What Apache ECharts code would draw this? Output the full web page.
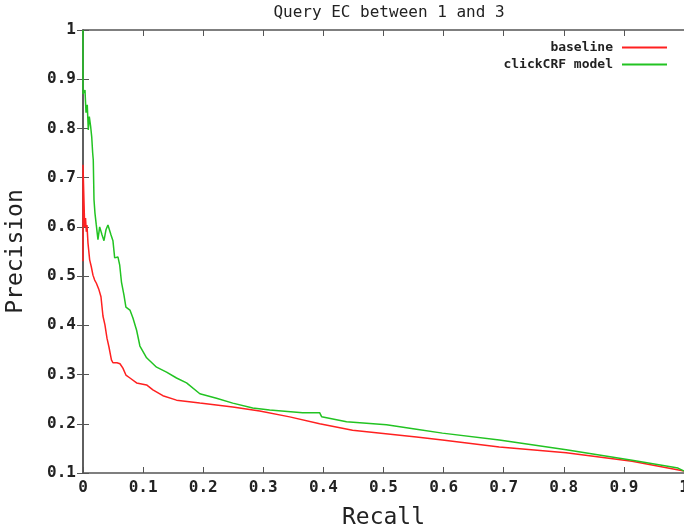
<!DOCTYPE html>
<html>
<head>
<meta charset="utf-8">
<script src="https://cdn.jsdelivr.net/npm/echarts@6/dist/echarts.min.js"></script>
<style>
  html, body { margin: 0; padding: 0; background: #fff; }
  #chart { width: 684px; height: 532px; }
</style>
</head>
<body>
<div id="chart"></div>
<script>
// 曲线数据 (recall, precision)
const seriesNames = ['baseline', 'clickCRF model'];

const baselineRecall = [0, 0, 0.0028, 0.0042, 0.0055, 0.0066, 0.0083, 0.0111, 0.0138, 0.0166, 0.0194,
  0.0221, 0.0261, 0.0299, 0.0332, 0.0365, 0.0399, 0.0432, 0.0473, 0.0498, 0.0565, 0.0615, 0.0664,
  0.0714, 0.0781, 0.0892, 0.1058, 0.1163, 0.1329, 0.1556, 0.1944, 0.2492, 0.294, 0.3439, 0.3937,
  0.4485, 0.5548, 0.598, 0.6927, 0.804, 0.9136, 1.0];
const baselinePrecision = [0.53, 0.726, 0.6, 0.618, 0.59, 0.604, 0.567, 0.533, 0.519, 0.502, 0.492,
  0.486, 0.474, 0.458, 0.419, 0.401, 0.374, 0.356, 0.33, 0.324, 0.324, 0.322, 0.313,
  0.299, 0.293, 0.283, 0.279, 0.269, 0.257, 0.248, 0.242, 0.234, 0.226, 0.214, 0.2,
  0.187, 0.173, 0.167, 0.153, 0.141, 0.124, 0.104];

const clickRecall = [0, 0, 0.0017, 0.0033, 0.005, 0.0071, 0.0088, 0.0105, 0.0128, 0.0145, 0.0161,
  0.0171, 0.0183, 0.0199, 0.0221, 0.0249, 0.0277, 0.0316, 0.0349, 0.0382, 0.0415, 0.0465, 0.0498,
  0.0527, 0.0581, 0.061, 0.064, 0.0681, 0.0714, 0.0781, 0.0831, 0.0892, 0.0947, 0.1058, 0.1224,
  0.139, 0.1556, 0.1723, 0.1944, 0.2221, 0.2492, 0.2824, 0.3106, 0.3654, 0.3937, 0.397, 0.4385,
  0.505, 0.5548, 0.598, 0.6927, 0.804, 0.9136, 0.99, 1.0];
const clickPrecision = [1.0, 0.87, 0.868, 0.878, 0.832, 0.848, 0.797, 0.824, 0.803, 0.783, 0.75,
  0.736, 0.655, 0.628, 0.604, 0.574, 0.6, 0.584, 0.572, 0.594, 0.604, 0.584, 0.572,
  0.537, 0.539, 0.523, 0.488, 0.462, 0.437, 0.431, 0.415, 0.39, 0.358, 0.334, 0.315,
  0.305, 0.293, 0.283, 0.261, 0.252, 0.242, 0.232, 0.228, 0.2226, 0.2226, 0.2144, 0.204,
  0.198, 0.189, 0.181, 0.167, 0.147, 0.126, 0.110, 0.104];

const zip = (xs, ys) => xs.map((x, i) => [x, ys[i]]);

const mono = 'DejaVu Sans Mono';
const axisColor = '#555';
const fmt = v => {
  const r = Math.round(v * 10) / 10;
  return (r === 0 || r === 1) ? String(r) : r.toFixed(1);
};

const chart = echarts.init(document.getElementById('chart'));

const option = {
  backgroundColor: '#fff',
  animation: false,
  title: {
    text: 'Query EC between 1 and 3',
    left: 384, top: 0, textAlign: 'center',
    textStyle: { fontFamily: mono, fontSize: 16, fontWeight: 'normal', color: '#222' }
  },
  legend: {
    data: seriesNames,
    orient: 'vertical',
    right: 17, top: 41,
    padding: 0,
    align: 'right',
    icon: 'rect',
    itemWidth: 45, itemHeight: 2,
    itemGap: 4,
    textStyle: { fontFamily: mono, fontSize: 13, fontWeight: 'bold', color: '#222', padding: [0, 4, 0, 0] }
  },
  grid: { left: 83, right: 0, top: 30, bottom: 59, containLabel: false, outerBoundsMode: 'none' },
  xAxis: [
    {
      type: 'value', min: 0, max: 1, interval: 0.1,
      name: 'Recall', nameLocation: 'middle', nameGap: 34,
      nameTextStyle: { fontFamily: mono, fontSize: 23, color: '#222' },
      axisLine: { lineStyle: { color: axisColor, width: 1.5 } },
      axisTick: { inside: true, length: 6, lineStyle: { color: axisColor } },
      axisLabel: { fontFamily: mono, fontSize: 16, fontWeight: 'bold', color: '#222', margin: 7, formatter: fmt },
      splitLine: { show: false }
    },
    {
      type: 'value', min: 0, max: 1, interval: 0.1, position: 'top',
      axisLine: { lineStyle: { color: axisColor, width: 1.5 } },
      axisTick: { inside: true, length: 6, lineStyle: { color: axisColor } },
      axisLabel: { show: false },
      splitLine: { show: false }
    }
  ],
  yAxis: [
    {
      type: 'value', min: 0.1, max: 1, interval: 0.1,
      name: 'Precision', nameLocation: 'middle', nameGap: 55,
      nameTextStyle: { fontFamily: mono, fontSize: 23, color: '#222' },
      axisLine: { show: true, lineStyle: { color: axisColor, width: 1.5 } },
      axisTick: { show: true, inside: true, length: 6, lineStyle: { color: axisColor } },
      axisLabel: { fontFamily: mono, fontSize: 16, fontWeight: 'bold', color: '#222', margin: 7, formatter: fmt },
      splitLine: { show: false }
    },
    {
      type: 'value', min: 0.1, max: 1, interval: 0.1, position: 'right',
      axisLine: { show: true, lineStyle: { color: axisColor, width: 1.5 } },
      axisTick: { show: true, inside: true, length: 6, lineStyle: { color: axisColor } },
      axisLabel: { show: false },
      splitLine: { show: false }
    }
  ],
  series: [
    {
      name: seriesNames[0], type: 'line', data: zip(baselineRecall, baselinePrecision),
      showSymbol: false, symbol: 'none',
      lineStyle: { color: '#ff2020', width: 1.5 }, itemStyle: { color: '#ff2020' }
    },
    {
      name: seriesNames[1], type: 'line', data: zip(clickRecall, clickPrecision),
      showSymbol: false, symbol: 'none',
      lineStyle: { color: '#22c322', width: 1.5 }, itemStyle: { color: '#22c322' }
    }
  ]
};

chart.setOption(option);
</script>
</body>
</html>
